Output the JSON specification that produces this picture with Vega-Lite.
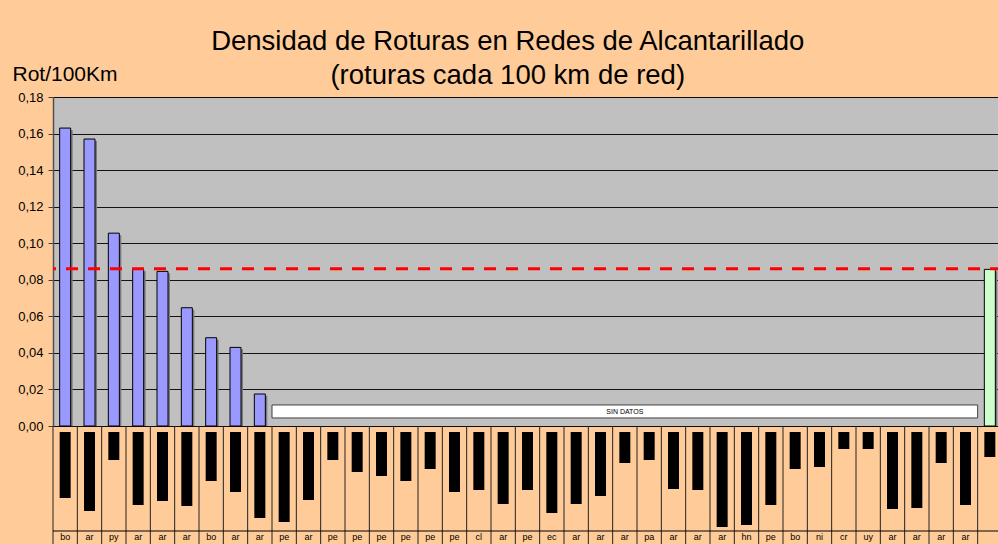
{
  "$schema": "https://vega.github.io/schema/vega-lite/v6.json",
  "background": "#FFCC99",
  "padding": {"left": 11, "top": 28, "right": 0, "bottom": 0},
  "bounds": "flush",
  "config": {"font": "Liberation Sans", "view": {"stroke": null}},
  "title": {
    "text": ["Densidad de Roturas en Redes de Alcantarillado", "(roturas cada 100 km de red)"],
    "fontSize": 27.5, "fontWeight": "normal", "lineHeight": 34, "color": "#000000",
    "anchor": "middle", "offset": -27
  },
  "datasets": {
    "rows": [
      {"pos": "01", "code": "bo", "v": 0.163, "r": 72, "k": "dato"},
      {"pos": "02", "code": "ar", "v": 0.157, "r": 85, "k": "dato"},
      {"pos": "03", "code": "py", "v": 0.1055, "r": 34, "k": "dato"},
      {"pos": "04", "code": "ar", "v": 0.0857, "r": 79, "k": "dato"},
      {"pos": "05", "code": "ar", "v": 0.0846, "r": 75, "k": "dato"},
      {"pos": "06", "code": "ar", "v": 0.0647, "r": 80, "k": "dato"},
      {"pos": "07", "code": "bo", "v": 0.0483, "r": 55, "k": "dato"},
      {"pos": "08", "code": "ar", "v": 0.043, "r": 66, "k": "dato"},
      {"pos": "09", "code": "ar", "v": 0.0175, "r": 92, "k": "dato"},
      {"pos": "10", "code": "pe", "v": null, "r": 96, "k": "sin"},
      {"pos": "11", "code": "ar", "v": null, "r": 74, "k": "sin"},
      {"pos": "12", "code": "pe", "v": null, "r": 34, "k": "sin"},
      {"pos": "13", "code": "pe", "v": null, "r": 46, "k": "sin"},
      {"pos": "14", "code": "pe", "v": null, "r": 50, "k": "sin"},
      {"pos": "15", "code": "pe", "v": null, "r": 55, "k": "sin"},
      {"pos": "16", "code": "pe", "v": null, "r": 43, "k": "sin"},
      {"pos": "17", "code": "pe", "v": null, "r": 66, "k": "sin"},
      {"pos": "18", "code": "cl", "v": null, "r": 64, "k": "sin"},
      {"pos": "19", "code": "ar", "v": null, "r": 78, "k": "sin"},
      {"pos": "20", "code": "pe", "v": null, "r": 64, "k": "sin"},
      {"pos": "21", "code": "ec", "v": null, "r": 87, "k": "sin"},
      {"pos": "22", "code": "ar", "v": null, "r": 78, "k": "sin"},
      {"pos": "23", "code": "ar", "v": null, "r": 70, "k": "sin"},
      {"pos": "24", "code": "ar", "v": null, "r": 37, "k": "sin"},
      {"pos": "25", "code": "pa", "v": null, "r": 34, "k": "sin"},
      {"pos": "26", "code": "ar", "v": null, "r": 63, "k": "sin"},
      {"pos": "27", "code": "ar", "v": null, "r": 64, "k": "sin"},
      {"pos": "28", "code": "ar", "v": null, "r": 101, "k": "sin"},
      {"pos": "29", "code": "hn", "v": null, "r": 99, "k": "sin"},
      {"pos": "30", "code": "pe", "v": null, "r": 79, "k": "sin"},
      {"pos": "31", "code": "bo", "v": null, "r": 43, "k": "sin"},
      {"pos": "32", "code": "ni", "v": null, "r": 41, "k": "sin"},
      {"pos": "33", "code": "cr", "v": null, "r": 23, "k": "sin"},
      {"pos": "34", "code": "uy", "v": null, "r": 23, "k": "sin"},
      {"pos": "35", "code": "ar", "v": null, "r": 83, "k": "sin"},
      {"pos": "36", "code": "ar", "v": null, "r": 82, "k": "sin"},
      {"pos": "37", "code": "ar", "v": null, "r": 37, "k": "sin"},
      {"pos": "38", "code": "ar", "v": null, "r": 79, "k": "sin"},
      {"pos": "39", "code": "", "v": 0.0857, "r": 31, "k": "prom"}
    ],
    "nodata": [{"from": "10", "to": "38", "mid": "24", "label": "SIN DATOS"}],
    "avg": [{"avg": 0.086}],
    "lines": [{"line": 105}]
  },
  "spacing": 0,
  "vconcat": [
    {
      "width": 949,
      "height": 329,
      "view": {"fill": "#C0C0C0", "stroke": "#808080"},
      "layer": [
        {
          "data": {"name": "rows"},
          "transform": [{"filter": "datum.v != null"}],
          "mark": {"type": "bar", "width": 11, "color": "#7a7a7a", "xOffset": 2, "yOffset": 2, "clip": true},
          "encoding": {
            "x": {"field": "pos", "type": "nominal", "axis": null,
              "scale": {"paddingInner": 0, "paddingOuter": 0,
                "domain": ["01","02","03","04","05","06","07","08","09","10","11","12","13","14","15","16","17","18","19","20","21","22","23","24","25","26","27","28","29","30","31","32","33","34","35","36","37","38","39"]}},
            "y": {
              "field": "v", "type": "quantitative",
              "scale": {"domain": [0, 0.18], "nice": false, "zero": true},
              "axis": {
                "title": "Rot/100Km", "titleAngle": 0, "titleAlign": "left", "titleBaseline": "middle",
                "titleX": -41, "titleY": -23, "titleFontSize": 21, "titleFontWeight": "normal", "titleColor": "#000000",
                "values": [0, 0.02, 0.04, 0.06, 0.08, 0.1, 0.12, 0.14, 0.16, 0.18],
                "tickCount": 10,
                "labelExpr": "replace(format(datum.value, '.2f'), '.', ',')",
                "labelOverlap": false, "labelBound": false, "labelFlush": false,
                "labelFontSize": 13, "labelColor": "#000000", "labelPadding": 5,
                "tickSize": 5, "tickColor": "#404040", "domainColor": "#505050", "domainWidth": 1.5,
                "grid": true, "gridColor": "#000000", "gridOpacity": 0.9, "gridWidth": 1
              }
            }
          }
        },
        {
          "data": {"name": "nodata"},
          "mark": {"type": "rect", "fill": "#FFFFFF", "stroke": "#404040", "strokeWidth": 1},
          "encoding": {
            "x": {"field": "from", "type": "nominal", "bandPosition": 0},
            "x2": {"field": "to", "bandPosition": 1},
            "y": {"datum": 0.0044, "type": "quantitative"},
            "y2": {"datum": 0.0115}
          }
        },
        {
          "data": {"name": "nodata"},
          "mark": {"type": "text", "fontSize": 7, "color": "#000000", "align": "center", "baseline": "middle"},
          "encoding": {
            "x": {"field": "mid", "type": "nominal"},
            "y": {"datum": 0.0079, "type": "quantitative"},
            "text": {"field": "label"}
          }
        },
        {
          "data": {"name": "rows"},
          "transform": [{"filter": "datum.v != null"}],
          "mark": {"type": "bar", "width": 11, "stroke": "#000000", "strokeWidth": 1},
          "encoding": {
            "x": {"field": "pos", "type": "nominal"},
            "y": {"field": "v", "type": "quantitative"},
            "color": {"field": "k", "type": "nominal", "scale": {"domain": ["dato", "prom"], "range": ["#9999FF", "#CCFFCC"]}, "legend": null}
          }
        },
        {
          "data": {"name": "avg"},
          "mark": {"type": "rule", "color": "#FF0000", "strokeWidth": 3, "strokeDash": [12, 10]},
          "encoding": {"y": {"field": "avg", "type": "quantitative"}}
        }
      ]
    },
    {
      "width": 949,
      "height": 120,
      "view": {"stroke": null},
      "layer": [
        {
          "data": {"name": "rows"},
          "mark": {"type": "rule", "color": "#222222", "strokeWidth": 1},
          "encoding": {
            "x": {"field": "pos", "type": "nominal", "bandPosition": 0, "axis": null,
              "scale": {"paddingInner": 0, "paddingOuter": 0,
                "domain": ["01","02","03","04","05","06","07","08","09","10","11","12","13","14","15","16","17","18","19","20","21","22","23","24","25","26","27","28","29","30","31","32","33","34","35","36","37","38","39"]}}
          }
        },
        {
          "data": {"name": "rows"},
          "mark": {"type": "bar", "width": 11, "color": "#000000"},
          "encoding": {
            "x": {"field": "pos", "type": "nominal"},
            "y": {"field": "r", "type": "quantitative", "scale": {"domain": [0, 120], "reverse": true, "nice": false}, "axis": null},
            "y2": {"datum": 6}
          }
        },
        {
          "data": {"name": "lines"},
          "mark": {"type": "rule", "color": "#000000", "strokeWidth": 1},
          "encoding": {"y": {"field": "line", "type": "quantitative"}}
        },
        {
          "data": {"name": "rows"},
          "mark": {"type": "text", "fontSize": 9, "color": "#000000", "baseline": "middle"},
          "encoding": {
            "x": {"field": "pos", "type": "nominal"},
            "y": {"datum": 111, "type": "quantitative"},
            "text": {"field": "code"}
          }
        }
      ]
    }
  ]
}
